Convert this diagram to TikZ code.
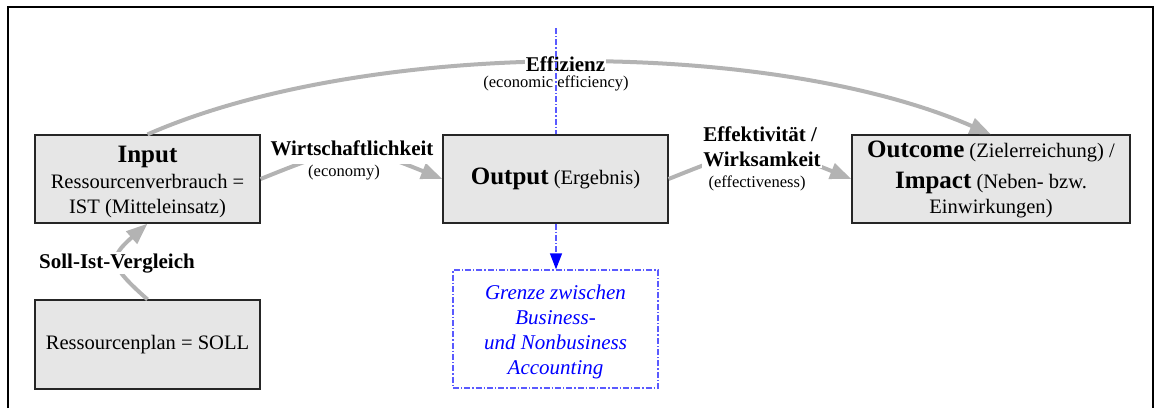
\documentclass[tikz,border=0pt]{standalone}
\usepackage{fontspec}
\setmainfont{Liberation Serif}
\usetikzlibrary{arrows.meta}
\newlength{\pxl}\setlength{\pxl}{0.75pt}
\newcommand\ttlfont{\fontsize{18.75}{22.5}\selectfont\bfseries}
\newcommand\bxfont{\fontsize{15.4}{18.75}\selectfont}
\newcommand\lbfont{\fontsize{15.75}{18.75}\selectfont\bfseries}
\newcommand\smfont{\fontsize{12.4}{15}\selectfont}
\newcommand\grfont{\fontsize{15.75}{18.75}\selectfont\itshape}
\definecolor{boxgray}{HTML}{E6E6E6}
\definecolor{flowgray}{HTML}{B3B3B3}
\definecolor{bline}{HTML}{5A5AFF}
\begin{document}
\begin{tikzpicture}[x=0.75pt,y=-0.75pt,
  box/.style={draw=black!85, line width=0.9pt, fill=boxgray, inner sep=0pt,
    align=center, font=\bxfont, minimum height=88\pxl, minimum width=225\pxl},
  flow/.style={draw=flowgray, line width=3pt, -{Triangle[length=16pt,width=12pt]}},
  lab/.style={font=\lbfont, fill=white, inner sep=1pt},
  sub/.style={font=\smfont, inner sep=1pt},
  bound/.style={draw=bline, line width=1pt, dash pattern=on 4.5pt off 1.5pt on 1pt off 1.5pt},
]
\useasboundingbox (0,0) rectangle (1158,408);
% outer frame, open at the bottom
\draw[line width=1.5pt] (7.5,408) -- (7.5,6.5) -- (1153,6.5) -- (1153,408);

% boxes
\node[box] (in) at (147.5,179)
  {\rule{0pt}{16.5pt}{\ttlfont Input}\\[1.5\pxl]Ressourcenverbrauch =\\IST (Mitteleinsatz)};
\node[box, minimum height=89\pxl] (soll) at (147.5,344.5) {Ressourcenplan = SOLL};
\node[box] (out) at (555.5,179) {{\ttlfont Output} (Ergebnis)};
\node[box, minimum width=278\pxl] (outc) at (991,179)
  {{\ttlfont Outcome} (Zielerreichung) /\\[4.5pt]{\ttlfont Impact} (Neben- bzw.\\Einwirkungen)};
\node[bound, text=blue, font=\grfont, align=center, minimum width=205\pxl,
  minimum height=118\pxl, inner sep=0pt] (gr) at (555.5,329)
  {\rule{0pt}{15.3pt}Grenze zwischen\\Business-\\und Nonbusiness\\Accounting};

% grey flows
\draw[flow] (in.north) .. controls (367,38) and (770,38) .. (outc.north);
\draw[flow] (in.east) .. controls (350,143) and (353,143) .. (out.west);
\draw[flow] (out.east) .. controls (758,143) and (762,143) .. (outc.west);
\draw[flow] (soll.north) .. controls (108.5,265) and (108.5,258) .. (in.south);

% flow labels
\node[lab, anchor=base] (effz) at (565.5,71) {Effizienz};
\node[sub, anchor=base] (effzs) at (556,87) {(economic efficiency)};
\node[lab, anchor=base, text depth=6pt] (wirt) at (352,155) {Wirtschaftlichkeit};
\node[sub, anchor=base] (wirts) at (344,176) {(economy)};
\node[lab, align=left] (effk) at (762,147) {Effektivität /\\Wirksamkeit};
\node[sub, anchor=base] (effks) at (757,187) {(effectiveness)};
\node[lab, anchor=base] (sollist) at (117,268) {Soll-Ist-Vergleich};

% business / nonbusiness boundary
\coordinate (btop) at (556,28);
\draw[bound] (btop) -- (btop |- out.north);
\draw[bound, -{Triangle[length=12pt,width=9pt,color=blue]}] (btop |- out.south) -- (btop |- gr.north);
\end{tikzpicture}
\end{document}
